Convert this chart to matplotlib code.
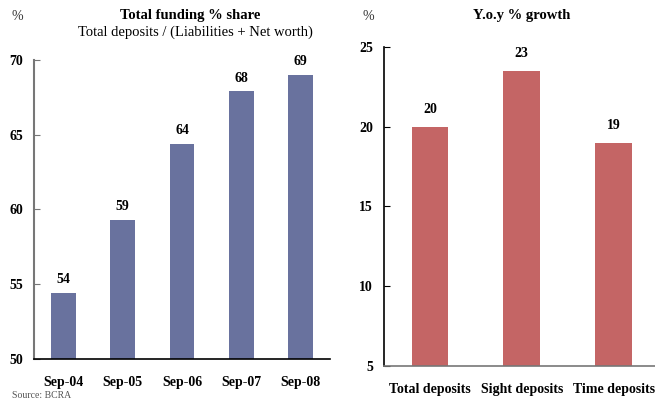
import matplotlib.pyplot as plt

plt.rcParams['font.family'] = ['Liberation Serif', 'DejaVu Serif']

# funding share, % of liabilities + net worth
years = ['Sep-04', 'Sep-05', 'Sep-06', 'Sep-07', 'Sep-08']
share = [54.4, 59.3, 64.4, 67.9, 69.0]
share_labels = ['54', '59', '64', '68', '69']

# year-on-year growth of deposits
deposit_types = ['Total deposits', 'Sight deposits', 'Time deposits']
growth = [20.0, 23.5, 19.0]
growth_labels = ['20', '23', '19']

W, H = 655, 401
fig = plt.figure(figsize=(W / 100, H / 100), dpi=100)

blue = '#69729e'
red = '#c46565'

# left panel
ax1 = fig.add_axes([34 / W, 1 - 359 / H, (330 - 34) / W, (359 - 60) / H])
x1 = range(len(years))
ax1.bar(x1, share, width=0.42, color=blue)
ax1.set_ylim(50, 70)
ax1.set_xlim(-0.5, 4.5)
ax1.set_yticks([50, 55, 60, 65, 70])
ax1.set_xticks(list(x1))
ax1.set_xticklabels(years, fontweight='bold', fontsize=10)
for i, v in enumerate(share):
    ax1.text(i, v + 0.45, share_labels[i], ha='center', va='bottom',
             fontweight='bold', fontsize=10)
for s in ['top', 'right']:
    ax1.spines[s].set_visible(False)
ax1.spines['left'].set_color('#777777')
ax1.spines['left'].set_linewidth(1.5)
ax1.spines['bottom'].set_linewidth(1.2)
ax1.tick_params(axis='y', direction='in', length=4, labelsize=10, pad=8,
                color='#777777')
ax1.tick_params(axis='x', length=0, pad=12)
for t in ax1.get_yticklabels():
    t.set_fontweight('bold')

fig.text(12 / W, 1 - 16 / H, '%', fontsize=10, ha='left', va='center', color='#333333')
fig.text(190 / W, 1 - 15 / H, 'Total funding % share', fontsize=10.5,
         fontweight='bold', ha='center', va='center')
fig.text(195 / W, 1 - 32 / H, 'Total deposits / (Liabilities + Net worth)',
         fontsize=10.5, ha='center', va='center')

# right panel
ax2 = fig.add_axes([384 / W, 1 - 366 / H, (655 - 384) / W, (366 - 47) / H])
x2 = range(len(deposit_types))
ax2.bar(x2, growth, width=0.4, color=red)
ax2.set_ylim(5, 25)
ax2.set_xlim(-0.5, 2.45)
ax2.set_yticks([5, 10, 15, 20, 25])
ax2.set_xticks(list(x2))
ax2.set_xticklabels(deposit_types, fontweight='bold', fontsize=10)
for i, v in enumerate(growth):
    ax2.text(i, v + 0.7, growth_labels[i], ha='center', va='bottom',
             fontweight='bold', fontsize=10)
for s in ['top', 'right']:
    ax2.spines[s].set_visible(False)
ax2.spines['left'].set_linewidth(1.2)
ax2.spines['bottom'].set_linewidth(1.2)
ax2.spines['bottom'].set_color('#777777')
ax2.tick_params(axis='y', direction='in', length=4, labelsize=10, pad=8)
ax2.tick_params(axis='x', length=0, pad=12)
for t in ax2.get_yticklabels():
    t.set_fontweight('bold')

fig.text(368 / W, 1 - 16 / H, '%', fontsize=10, ha='center', va='center', color='#333333')
fig.text(522 / W, 1 - 15 / H, 'Y.o.y % growth', fontsize=10.5,
         fontweight='bold', ha='center', va='center')

# source note along the bottom edge
fig.text(12 / W, 1 / H, 'Source: BCRA', fontsize=7, ha='left', va='bottom',
         color='#555555')

fig.savefig('out.png', dpi=100)
